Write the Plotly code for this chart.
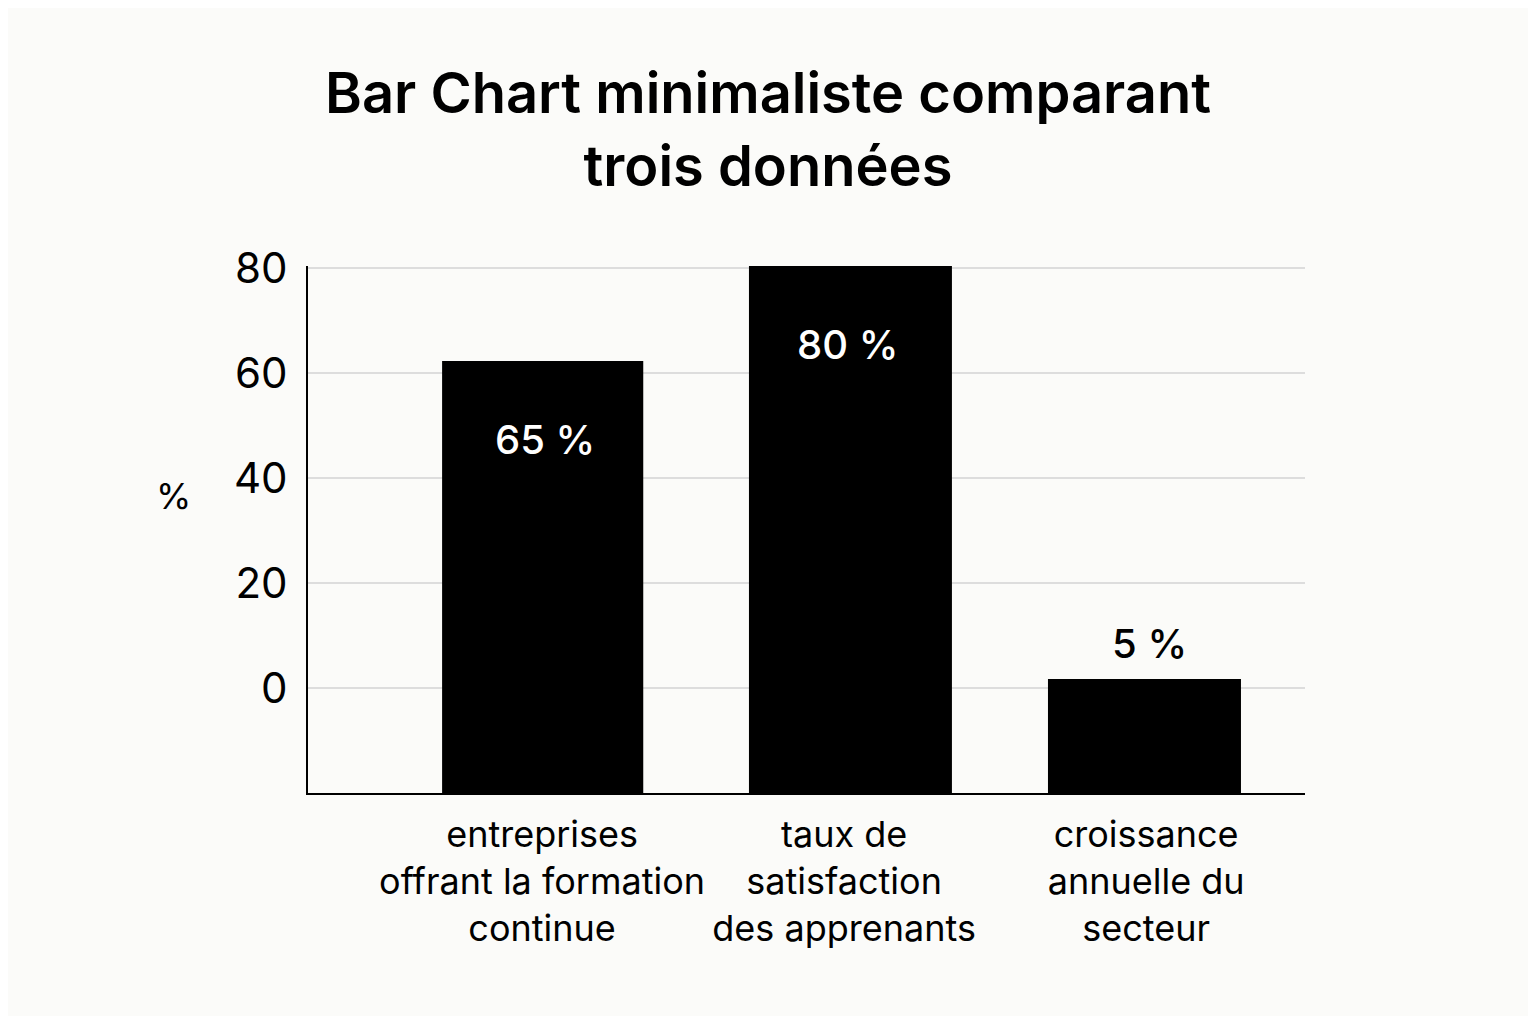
import plotly.graph_objects as go

# Data
categories = [
    "entreprises<br>offrant la formation<br>continue",
    "taux de<br>satisfaction<br>des apprenants",
    "croissance<br>annuelle du<br>secteur",
]
bar_tops = [62.3, 80.4, 1.7]          # drawn bar heights
label_values = [65, 80, 5]            # values printed on the bars
y_ticks = [0, 20, 40, 60, 80]
y_base = -20

FONT = "Inter"
BG = "#FBFBF9"

fig = go.Figure()
fig.add_trace(go.Bar(
    x=categories,
    y=[t - y_base for t in bar_tops],
    base=y_base,
    width=[0.666, 0.672, 0.639],
    offset=[-0.331, -0.315, -0.325],
    marker=dict(color="#000000", line=dict(width=0)),
    showlegend=False,
    hoverinfo="skip",
))

for cat, top, val in zip(categories, bar_tops, label_values):
    inside = top > 20
    fig.add_annotation(
        x=cat, y=top, xref="x", yref="y",
        text=f"{val} %",
        showarrow=False,
        yanchor="middle",
        xshift=3,
        yshift=-78 if inside else 36,
        font=dict(family=FONT, size=40, color="#FFFFFF" if inside else "#000000", weight=500),
    )

fig.add_annotation(
    x=-0.135, y=0.564, xref="paper", yref="paper",
    text="%", showarrow=False, xanchor="center", yanchor="middle",
    font=dict(family=FONT, size=36, color="#000000"),
)

fig.update_layout(
    width=1520, height=1008,
    paper_bgcolor=BG, plot_bgcolor=BG,
    margin=dict(l=300, r=223, t=258, b=223, autoexpand=False),
    title=dict(
        text="Bar Chart minimaliste comparant<br>trois données",
        x=0.5, xanchor="center", xref="container",
        y=0.896, yanchor="middle", yref="container",
        font=dict(family=FONT, size=56, color="#000000", weight=600),
    ),
    xaxis=dict(
        type="category",
        range=[-0.775, 2.526],
        showgrid=False,
        showline=True, linecolor="#000000", linewidth=2,
        ticks="", ticklen=0, ticklabelstandoff=9,
        tickangle=0, automargin=False,
        tickfont=dict(family=FONT, size=36, color="#000000"),
        zeroline=False,
        fixedrange=True,
    ),
    yaxis=dict(
        range=[y_base, 80.4],
        tickvals=y_ticks,
        ticktext=[str(v) for v in y_ticks],
        showgrid=True, gridcolor="#DDDDDD", gridwidth=2,
        showline=True, linecolor="#000000", linewidth=2,
        zeroline=False, automargin=False,
        ticks="", ticklabelstandoff=10,
        tickfont=dict(family=FONT, size=42, color="#000000"),
        fixedrange=True,
    ),
    bargap=0.3,
)

fig.write_html("out.html")
